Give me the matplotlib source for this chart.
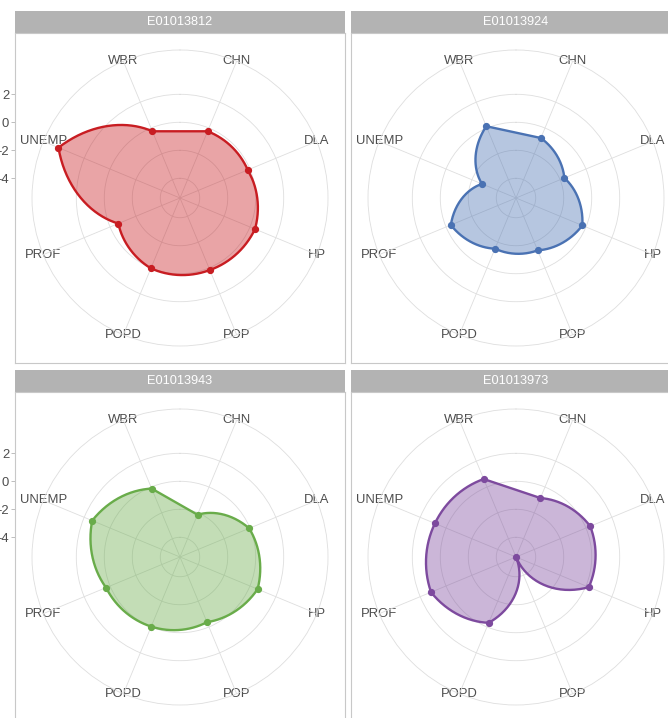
import numpy as np
import matplotlib
matplotlib.use("Agg")
import matplotlib.pyplot as plt

plt.rcParams["font.family"] = ["Liberation Sans", "DejaVu Sans"]
plt.rcParams["axes.unicode_minus"] = False

# indicators in alphabetical order, going clockwise from the top
categories = ["CHN", "DLA", "HP", "POP", "POPD", "PROF", "UNEMP", "WBR"]
areas = ["E01013812", "E01013924", "E01013943", "E01013973"]

e01013812 = [-0.25, -0.17, 0.39, 0.16, 0.03, -0.64, 3.99, -0.25]
e01013924 = [-0.77, -1.67, -0.28, -1.36, -1.49, -0.37, -2.78, 0.14]
e01013943 = [-2.14, -0.06, 0.59, -0.37, -0.03, 0.31, 1.38, -0.12]
e01013973 = [-0.85, 0.33, 0.22, -5.41, -0.32, 1.16, 0.86, 0.62]

area_values = [e01013812, e01013924, e01013943, e01013973]
colors = ["#C81D22", "#4A72B3", "#69AC4A", "#7D4A9E"]

r_ticks = [-4, -2, 0, 2]

FIG_W, FIG_H = 668, 718
PANEL = 330
STRIP = 22
R_MIN = min(min(v) for v in area_values)
R_MAX = max(max(v) for v in area_values)
# data range fills 0.4 of the panel radius scale, the outer ring sits at 0.45
R_OUT = R_MIN + (R_MAX - R_MIN) * 0.45 / 0.4
PX_PER_UNIT = 148 / (R_OUT - R_MIN)

GRID = "#DEDEDE"
BORDER = "#C8C8C8"
TEXT = "#4D4D4D"


def fig_rect(x, y, w, h):
    return [x / FIG_W, 1 - (y + h) / FIG_H, w / FIG_W, h / FIG_H]


def polar_path(theta, r, steps=60):
    """Segments linear in (theta, r), closed with a straight chord."""
    th_out, r_out = [], []
    for i in range(len(theta) - 1):
        t = np.linspace(0, 1, steps, endpoint=False)
        th_out.append(theta[i] + (theta[i + 1] - theta[i]) * t)
        r_out.append(r[i] + (r[i + 1] - r[i]) * t)
    # straight closing edge back to the first point
    rho0, rho1 = r[-1] - R_MIN, r[0] - R_MIN
    x0, y0 = rho0 * np.sin(theta[-1]), rho0 * np.cos(theta[-1])
    x1, y1 = rho1 * np.sin(theta[0]), rho1 * np.cos(theta[0])
    t = np.linspace(0, 1, steps)
    xs, ys = x0 + (x1 - x0) * t, y0 + (y1 - y0) * t
    th_out.append(np.arctan2(xs, ys))
    r_out.append(np.hypot(xs, ys) + R_MIN)
    return np.concatenate(th_out), np.concatenate(r_out)


fig = plt.figure(figsize=(FIG_W / 100, FIG_H / 100), dpi=100)

theta = np.deg2rad(22.5 + 45 * np.arange(len(categories)))
positions = [(15, 33), (351, 33), (15, 392), (351, 392)]

for area, vals, col, (px, py) in zip(areas, area_values, colors, positions):
    # facet strip
    sax = fig.add_axes(fig_rect(px, py - STRIP, PANEL, STRIP))
    sax.set_facecolor("#B3B3B3")
    sax.set_xticks([])
    sax.set_yticks([])
    for s in sax.spines.values():
        s.set_visible(False)
    sax.text(0.5, 0.48, area, ha="center", va="center", color="white",
             fontsize=9.2, transform=sax.transAxes)

    # panel frame, carrying the radial axis on the left column
    frame = fig.add_axes(fig_rect(px, py, PANEL, PANEL))
    frame.set_facecolor("white")
    frame.set_xticks([])
    half = PANEL / 2 / PX_PER_UNIT
    frame.set_ylim(R_MIN - half, R_MIN + half)
    for s in frame.spines.values():
        s.set_color(BORDER)
        s.set_linewidth(0.8)
    if px < 100:
        frame.set_yticks(r_ticks, [str(v) for v in r_ticks])
        frame.tick_params(axis="y", length=3, width=0.6, color="#B3B3B3",
                          pad=1.2, labelsize=9.4, labelcolor=TEXT)
    else:
        frame.set_yticks([])

    # radar
    cx, cy = px + PANEL / 2, py + PANEL / 2
    ax = fig.add_axes(fig_rect(cx - 148, cy - 148, 296, 296),
                      projection="polar")
    ax.set_facecolor("none")
    ax.set_theta_zero_location("N")
    ax.set_theta_direction(-1)
    ax.set_ylim(R_MIN, R_OUT)
    ax.set_xticks(theta)
    ax.set_xticklabels([])
    ax.set_yticks(r_ticks)
    ax.set_yticklabels([])
    ax.tick_params(length=0)
    ax.grid(True, color=GRID, linewidth=0.6)
    ax.spines["polar"].set_color(GRID)
    ax.spines["polar"].set_linewidth(0.6)

    for th, name in zip(theta, categories):
        ax.text(th, R_OUT, name, ha="center", va="center", fontsize=9.4,
                color=TEXT, zorder=1, clip_on=False)

    th_path, r_path = polar_path(theta, np.array(vals))
    ax.fill(th_path, r_path, color=col, alpha=0.4, linewidth=0, zorder=2)
    ax.plot(th_path, r_path, color=col, linewidth=1.7, zorder=3)
    ax.plot(theta, vals, "o", color=col, markersize=4.2, zorder=4)

fig.savefig("out.png", dpi=100)
